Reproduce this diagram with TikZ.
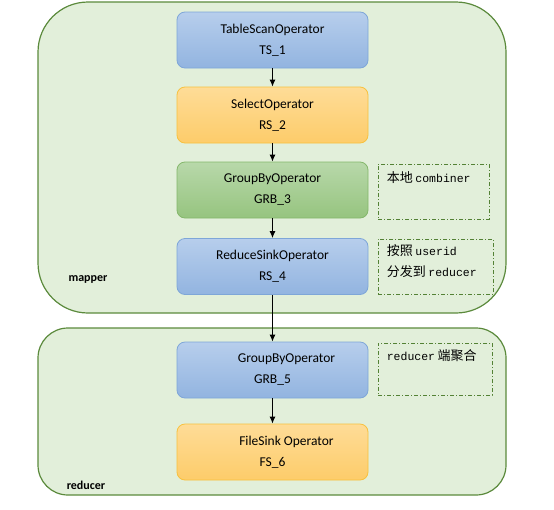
\documentclass[tikz,border=0pt]{standalone}
\usepackage{fontspec}
\setmainfont{Carlito}
\newfontfamily\cjkf{Noto Sans CJK SC}
\newfontfamily\monof{Liberation Mono}
\usetikzlibrary{arrows.meta}
\definecolor{contfill}{HTML}{E2EFDA}
\definecolor{contline}{HTML}{5B8A3C}
\definecolor{bluetop}{HTML}{B7CEEC}
\definecolor{bluebot}{HTML}{92B4E0}
\definecolor{blueline}{HTML}{7EA6D8}
\definecolor{orgtop}{HTML}{FEDC97}
\definecolor{orgbot}{HTML}{FDCC6A}
\definecolor{orgline}{HTML}{F8C13E}
\definecolor{grntop}{HTML}{B8D8AA}
\definecolor{grnbot}{HTML}{96C47F}
\definecolor{grnline}{HTML}{84B76B}
\definecolor{dashline}{HTML}{548235}
\tikzset{
  container/.style={draw=contline, fill=contfill, line width=1.2pt},
  opbox/.style={rounded corners=8pt, minimum width=191pt, minimum height=56pt,
    align=center, font=\fontsize{13.5pt}{21pt}\selectfont, line width=0.8pt, inner sep=0pt},
  bluebox/.style={opbox, draw=blueline, top color=bluetop, bottom color=bluebot},
  orgbox/.style={opbox, draw=orgline, top color=orgtop, bottom color=orgbot},
  grnbox/.style={opbox, draw=grnline, top color=grntop, bottom color=grnbot},
  notebox/.style={draw=dashline, line width=0.8pt, dash pattern=on 4pt off 2pt on 1pt off 2pt, inner sep=0pt},
  notetext/.style={anchor=north west, align=left, inner sep=0pt, font=\fontsize{11.5pt}{21pt}\selectfont},
  flow/.style={-{Latex[length=7pt,width=6pt]}, line width=1pt, black},
  grouplabel/.style={font=\fontsize{12pt}{14pt}\selectfont\bfseries}
}
\newcommand{\cj}[1]{{\cjkf\fontsize{13pt}{21pt}\selectfont #1}}
\begin{document}
\begin{tikzpicture}[x=1pt,y=-1pt]
\useasboundingbox (0,0) rectangle (554,509);
% containers
\node[container, rounded corners=50pt, minimum width=468pt, minimum height=311pt, inner sep=0pt] (mapper) at (272,157.5) {};
\node[container, rounded corners=30pt, minimum width=468pt, minimum height=167pt, inner sep=0pt] (reducer) at (272,411.5) {};
\node[grouplabel] (mlabel) at (88,279) {mapper};
\node[grouplabel] (rlabel) at (86,485) {reducer};
% operators
\node[bluebox] (ts1) at (272.5,40) {TableScanOperator\\TS\_1};
\node[orgbox] (rs2) at (272.5,115) {SelectOperator\\RS\_2};
\node[grnbox] (grb3) at (272.5,190) {GroupByOperator\\GRB\_3};
\node[bluebox] (rs4) at (272.5,266.5) {ReduceSinkOperator\\RS\_4};
\node[bluebox] (grb5) at (272.5,370) {\hspace*{28pt}GroupByOperator\\GRB\_5};
\node[orgbox] (fs6) at (272.5,452) {\hspace*{28pt}FileSink Operator\\FS\_6};
% flow
\draw[flow] (ts1) -- (rs2);
\draw[flow] (rs2) -- (grb3);
\draw[flow] (grb3) -- (rs4);
\draw[flow] (rs4) -- (grb5);
\draw[flow] (grb5) -- (fs6);
% notes
\node[notebox, minimum width=111pt, minimum height=55pt] (n1) at (433.5,191.5) {};
\node[notebox, minimum width=115pt, minimum height=55pt] (n2) at (435.5,266.5) {};
\node[notebox, minimum width=114pt, minimum height=52pt] (n3) at (435,369) {};
\node[notetext] (t1) at ([xshift=9pt,yshift=-8pt]n1.north west) {\cj{本地} {\monof combiner}};
\node[notetext] (t2) at ([xshift=9pt,yshift=-6pt]n2.north west) {\cj{按照} {\monof userid}\\\cj{分发到} {\monof reducer}};
\node[notetext] (t3) at ([xshift=9pt,yshift=-7pt]n3.north west) {{\monof reducer} \cj{端聚合}};
\end{tikzpicture}
\end{document}
